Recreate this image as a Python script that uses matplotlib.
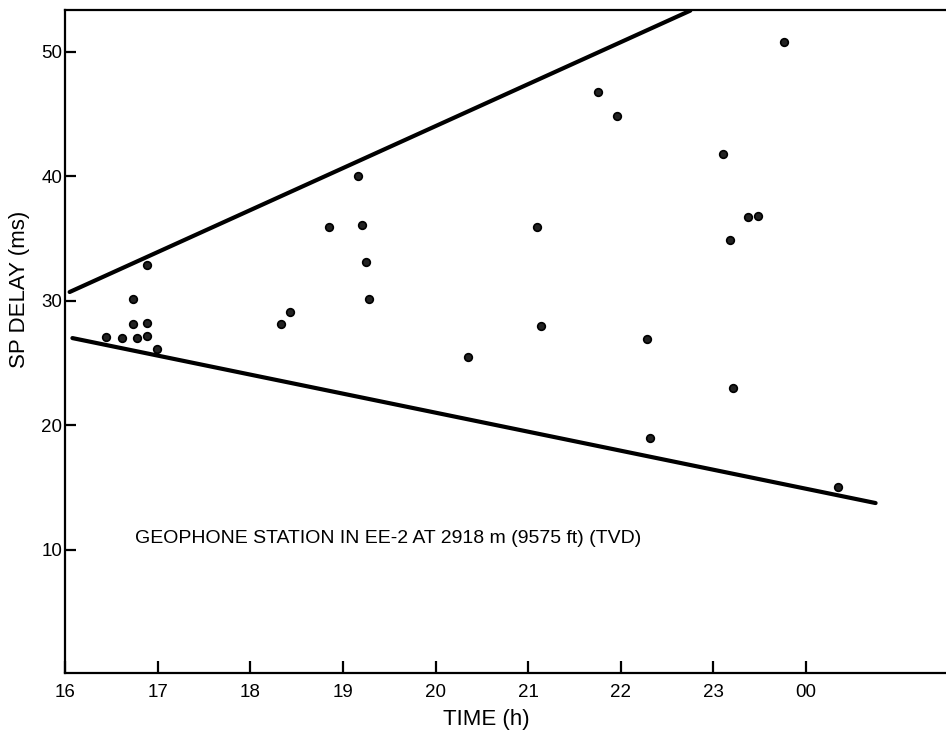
import matplotlib.pyplot as plt

plt.rcParams['font.family'] = ['Liberation Sans', 'DejaVu Sans']

# время (ч) и задержка S-P (мс)
times = [16.44, 16.62, 16.73, 16.73, 16.78, 16.88, 16.88, 16.89, 16.99,
         18.33, 18.43, 18.85, 19.16, 19.21, 19.25, 19.28, 20.35,
         21.10, 21.14, 21.75, 21.96, 22.28, 22.31,
         23.10, 23.18, 23.21, 23.37, 23.48, 23.76, 24.34]
delays = [27.1, 27.0, 30.1, 28.1, 27.0, 32.9, 28.2, 27.2, 26.1,
          28.1, 29.1, 35.9, 40.0, 36.1, 33.1, 30.1, 25.5,
          35.9, 28.0, 46.8, 44.8, 26.9, 19.0,
          41.8, 34.9, 23.0, 36.7, 36.8, 50.8, 15.0]

# огибающие линии
upper_t = [16.05, 22.75]
upper_v = [30.7, 53.3]
lower_t = [16.08, 24.75]
lower_v = [27.0, 13.75]

tick_pos = [16, 17, 18, 19, 20, 21, 22, 23, 24]
tick_lab = ['16', '17', '18', '19', '20', '21', '22', '23', '00']

fig = plt.figure(figsize=(9.46, 7.37), dpi=100)
ax = fig.add_axes([65 / 946, 1 - 673 / 737, 1 - 65 / 946, 663 / 737])

ax.plot(upper_t, upper_v, color='black', linewidth=3.0, solid_capstyle='round')
ax.plot(lower_t, lower_v, color='black', linewidth=3.0, solid_capstyle='round')
ax.plot(times, delays, 'o', color='#222222', markeredgecolor='black',
        markersize=5.5, markeredgewidth=1.2)

ax.set_xlim(16, 25.51)
ax.set_ylim(0.1, 53.35)

ax.set_xticks(tick_pos)
ax.set_xticklabels(tick_lab)
ax.set_yticks([10, 20, 30, 40, 50])
ax.tick_params(axis='x', direction='in', length=9, width=1.6, labelsize=13.5, pad=8)
ax.tick_params(axis='y', direction='in', length=8, width=1.6, labelsize=13.5, pad=2)

for s in ['left', 'bottom', 'top']:
    ax.spines[s].set_linewidth(1.6)
ax.spines['right'].set_visible(False)

ax.set_xlabel('TIME (h)', fontsize=16)
ax.xaxis.set_label_coords(0.478, -0.055)
ax.set_ylabel('SP DELAY (ms)', fontsize=16)
ax.yaxis.set_label_coords(-0.04, 0.578)

ax.text(16.76, 10.9, 'GEOPHONE STATION IN EE-2 AT 2918 m (9575 ft) (TVD)',
        fontsize=14, va='center')

plt.savefig('out.png', dpi=100)
